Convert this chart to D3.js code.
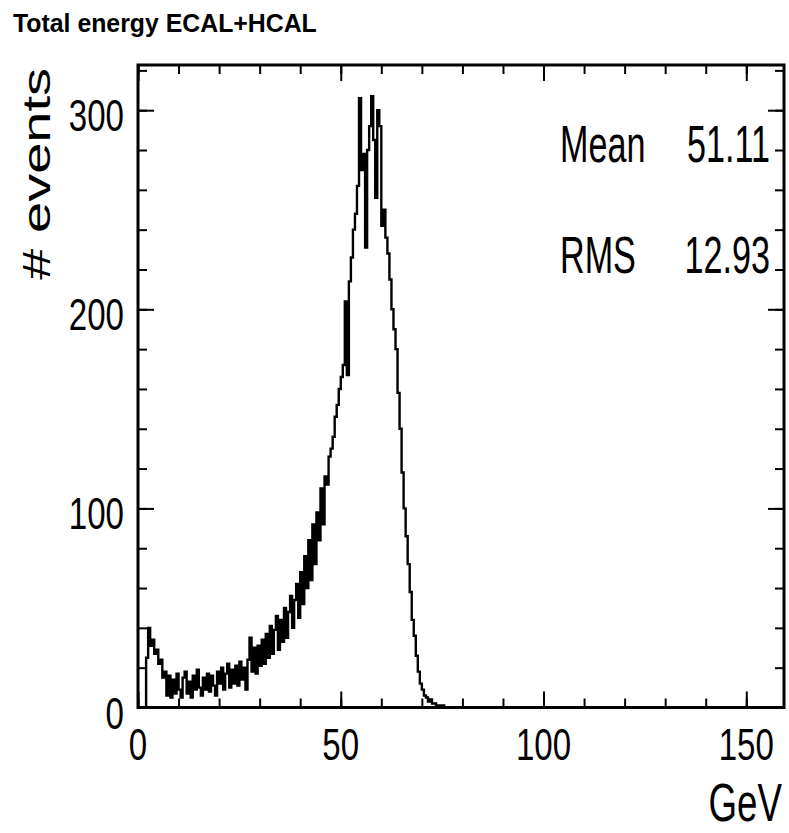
<!DOCTYPE html>
<html><head><meta charset="utf-8">
<script src="https://cdn.jsdelivr.net/npm/d3@7"></script>
<style>html,body{margin:0;padding:0;background:#fff;} svg{display:block;}</style>
</head><body>
<svg id="c" width="789" height="833"></svg>
<script>
// ---- data ----
const title = "Total energy ECAL+HCAL";
const xTitle = "GeV";
const yTitle = "# events";
const xMin = 0;
const binWidth = 0.5;
const counts = [
  0,0,0,0,25,40,31,34,27,29,22,24,15,18,6,16,5,14,7,17,
  9,5,15,18,7,13,5,16,9,19,10,6,15,9,17,8,16,11,6,18,
  12,20,9,17,22,10,19,12,21,11,23,14,20,9,24,35,18,30,17,31,
  21,34,22,37,25,41,27,39,46,29,44,33,50,35,48,56,40,54,62,45,
  68,52,76,60,84,64,92,72,98,84,110,92,116,112,126,130,136,146,152,160,
  166,172,204,167,214,226,240,248,262,306,270,278,231,280,292,307,285,256,300,292,
  242,250,236,228,215,200,190,180,158,140,118,100,86,72,58,44,36,26,18,12,
  9,6,5,3,4,2,2,1,1,0,1,0,0,0,0,0,0,0,0,0,
  0,0,0,0,0,0,0,0,0,0,0,0,0,0,0,0,0,0,0,0,
  0,0,0,0,0,0,0,0,0,0,0,0,0,0,0,0,0,0,0,0,
  0,0,0,0,0,0,0,0,0,0,0,0,0,0,0,0,0,0,0,0,
  0,0,0,0,0,0,0,0,0,0,0,0,0,0,0,0,0,0,0,0,
  0,0,0,0,0,0,0,0,0,0,0,0,0,0,0,0,0,0,0,0,
  0,0,0,0,0,0,0,0,0,0,0,0,0,0,0,0,0,0,0,0,
  0,0,0,0,0,0,0,0,0,0,0,0,0,0,0,0,0,0,0,0,
  0,0,0,0,0,0,0,0,0,0,0,0,0,0,0,0,0,0,0,0
];
const xMajorTicks = [0, 50, 100, 150];
const xMinorTicks = [0,10,20,30,40,50,60,70,80,90,100,110,120,130,140,150];
const yMajorTicks = [0, 100, 200, 300];
const yMinorTicks = [0,20,40,60,80,100,120,140,160,180,200,220,240,260,280,300,320];
const statLabels = ["Mean", "RMS"];
const statValues = ["51.11", "12.93"];

// ---- layout ----
const L = 138, R = 784, T = 65, B = 707.5;
const x = d3.scaleLinear().domain([0, 159.3]).range([L, R]);
const y = d3.scaleLinear().domain([0, 322.7]).range([B, T]);
const svg = d3.select("#c");
const FONT = "'Liberation Sans', Arial, Helvetica, sans-serif";

function txt(str, px, py, size, anchor, sx, weight) {
  return svg.append("text")
    .attr("font-family", FONT).attr("font-size", size)
    .attr("font-weight", weight || "normal")
    .attr("text-anchor", anchor).attr("fill", "#000")
    .attr("transform", `translate(${px},${py}) scale(${sx},1)`)
    .text(str);
}

// clip
svg.append("defs").append("clipPath").attr("id", "fr")
  .append("rect").attr("x", L).attr("y", T).attr("width", R - L).attr("height", B - T);

// histogram
const edges = d3.range(counts.length + 1).map(i => xMin + i * binWidth);
const pts = counts.map((c, i) => [edges[i], c]);
pts.push([edges[counts.length], counts[counts.length - 1]]);
const line = d3.line().x(d => x(d[0])).y(d => y(d[1])).curve(d3.curveStepAfter);
svg.append("path").attr("clip-path", "url(#fr)").attr("d", line(pts))
  .attr("fill", "none").attr("stroke", "#000").attr("stroke-width", 2.4)
  .attr("stroke-linejoin", "miter");

// axes ticks (inward)
function ticks(axisGen, tx, ty) {
  const g = svg.append("g").attr("transform", `translate(${tx},${ty})`).call(axisGen);
  g.select(".domain").remove();
  g.selectAll("line").attr("stroke", "#000").attr("stroke-width", 2);
  g.selectAll("text").remove();
}
const MAJ = 16, MIN = 9;
ticks(d3.axisBottom(x).tickValues(xMinorTicks).tickSize(-MIN), 0, B);
ticks(d3.axisBottom(x).tickValues(xMajorTicks).tickSize(-MAJ), 0, B);
ticks(d3.axisTop(x).tickValues(xMinorTicks).tickSize(-MIN), 0, T);
ticks(d3.axisTop(x).tickValues(xMajorTicks).tickSize(-MAJ), 0, T);
ticks(d3.axisLeft(y).tickValues(yMinorTicks).tickSize(-MIN), L, 0);
ticks(d3.axisLeft(y).tickValues(yMajorTicks).tickSize(-MAJ), L, 0);
ticks(d3.axisRight(y).tickValues(yMinorTicks).tickSize(-MIN), R, 0);
ticks(d3.axisRight(y).tickValues(yMajorTicks).tickSize(-MAJ), R, 0);

// frame
svg.append("rect").attr("x", L).attr("y", T).attr("width", R - L).attr("height", B - T)
  .attr("fill", "none").attr("stroke", "#000").attr("stroke-width", 3);

// tick labels
const LS = 44.7, LSX = 0.74;
xMajorTicks.forEach(v => txt(String(v), x(v), 760, LS, "middle", LSX));
yMajorTicks.forEach(v => txt(String(v), 124, y(v) + 21, LS, "end", LSX));

// axis titles
txt(xTitle, 782, 821, 54, "end", 0.68);
svg.append("text").attr("font-family", FONT).attr("font-size", 56)
  .attr("text-anchor", "end")
  .attr("transform", "translate(50,68) rotate(-90) scale(1,0.68)")
  .text(yTitle);

// title (fit to width)
const tt = txt(title, 13, 32, 26.5, "start", 1, "bold");
const tw = tt.node().getBBox().width;
tt.attr("transform", `translate(13,32) scale(${304 / tw},1)`);

// stats
const statY = [162, 273];
statLabels.forEach((s, i) => {
  txt(s, 560, statY[i], 51, "start", 0.67);
  txt(statValues[i], 770, statY[i], 51, "end", 0.67);
});
</script>
</body></html>
